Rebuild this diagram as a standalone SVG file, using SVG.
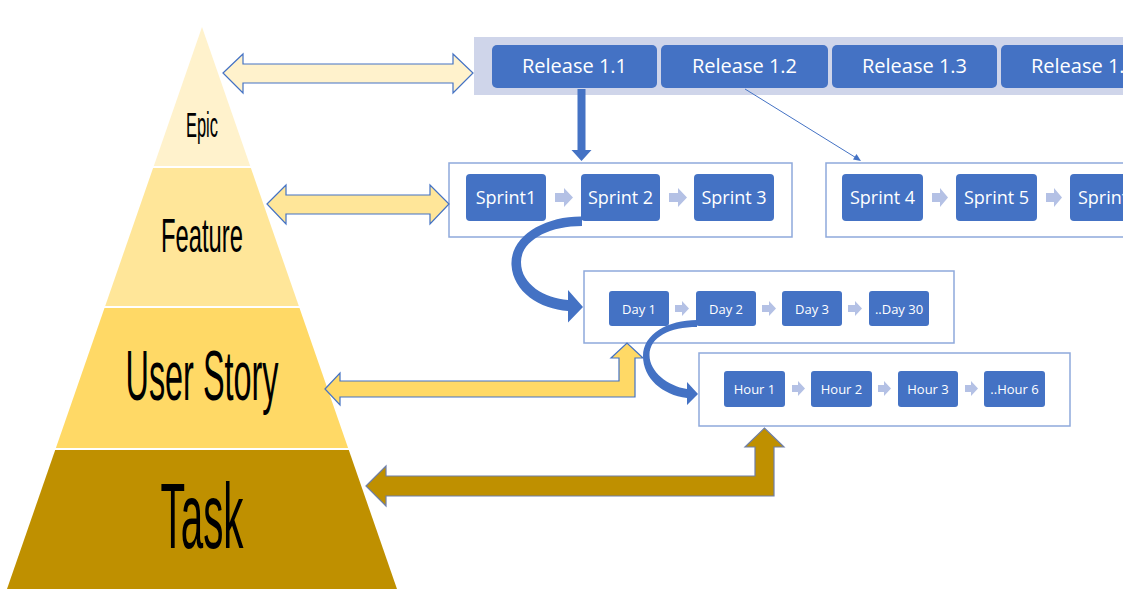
<svg xmlns="http://www.w3.org/2000/svg" width="1137" height="604" viewBox="0 0 1137 604">
<style>
.lvl{font-family:"Liberation Sans",Arial,sans-serif;fill:#000;text-anchor:middle}
.box{fill:#4472C4}
.bt{font-family:"Open Sans","Liberation Sans",sans-serif;fill:#fff;text-anchor:middle}
.cont{fill:#fff;stroke:#8EA9DB;stroke-width:1.5}
.sa{fill:#B4C1E5}
.dbl{stroke:#4472C4;stroke-width:1.2}
</style>
<defs>
<clipPath id="clipR"><rect x="0" y="0" width="1123" height="604"/></clipPath>
</defs>

<g id="pyramid">
  <g id="epic"><polygon points="202,27 250.2,166 153.8,166" fill="#FFF2CC"/>
    <text class="lvl" x="202" y="137" font-size="35" textLength="32" lengthAdjust="spacingAndGlyphs">Epic</text></g>
  <g id="feature"><polygon points="153.1,168 250.9,168 298.8,306 105.2,306" fill="#FFE699"/>
    <text class="lvl" x="202" y="252" font-size="49" textLength="82" lengthAdjust="spacingAndGlyphs">Feature</text></g>
  <g id="userstory"><polygon points="104.5,308 299.5,308 348.1,448 55.9,448" fill="#FFD966"/>
    <text class="lvl" x="202" y="400" font-size="70" textLength="153" lengthAdjust="spacingAndGlyphs">User Story</text></g>
  <g id="task"><polygon points="55.2,450 348.8,450 397,589 7,589" fill="#BF9000"/>
    <text class="lvl" x="202" y="548" font-size="92" textLength="83" lengthAdjust="spacingAndGlyphs">Task</text></g>
</g>

<g clip-path="url(#clipR)">
<g id="releases">
  <rect x="474" y="37" width="680" height="58" fill="#CFD5EA"/>
  <g id="r11"><rect class="box" x="492" y="45" width="165" height="43" rx="5"/><text class="bt" x="574.5" y="73" font-size="20">Release 1.1</text></g>
  <g id="r12"><rect class="box" x="661" y="45" width="167" height="43" rx="5"/><text class="bt" x="744.5" y="73" font-size="20">Release 1.2</text></g>
  <g id="r13"><rect class="box" x="832" y="45" width="165" height="43" rx="5"/><text class="bt" x="914.5" y="73" font-size="20">Release 1.3</text></g>
  <g id="r14"><rect class="box" x="1001" y="45" width="165" height="43" rx="5"/><text class="bt" x="1083.5" y="73" font-size="20">Release 1.4</text></g>
</g>

<g id="sprints-a">
  <rect class="cont" x="449" y="163" width="343" height="74"/>
  <g id="s1"><rect class="box" x="466" y="174" width="80" height="47" rx="4"/><text class="bt" x="506" y="204" font-size="18">Sprint1</text></g>
  <g id="s2"><rect class="box" x="581" y="174" width="79" height="47" rx="4"/><text class="bt" x="620.5" y="204" font-size="18">Sprint 2</text></g>
  <g id="s3"><rect class="box" x="694" y="174" width="80" height="47" rx="4"/><text class="bt" x="734" y="204" font-size="18">Sprint 3</text></g>
  <path class="sa" d="M555,193 h9 v-5 l9,9.5 l-9,9.5 v-5 h-9z"/>
  <path class="sa" d="M669,193 h9 v-5 l9,9.5 l-9,9.5 v-5 h-9z"/>
</g>

<g id="sprints-b">
  <rect class="cont" x="826" y="163" width="340" height="74"/>
  <g id="s4"><rect class="box" x="842" y="174" width="81" height="47" rx="4"/><text class="bt" x="882.5" y="204" font-size="18">Sprint 4</text></g>
  <g id="s5"><rect class="box" x="956" y="174" width="81" height="47" rx="4"/><text class="bt" x="996.5" y="204" font-size="18">Sprint 5</text></g>
  <g id="s6"><rect class="box" x="1070" y="174" width="81" height="47" rx="4"/><text class="bt" x="1110.5" y="204" font-size="18">Sprint 6</text></g>
  <path class="sa" d="M932,193 h8 v-5 l8,9.5 l-8,9.5 v-5 h-8z"/>
  <path class="sa" d="M1046,193 h8 v-5 l8,9.5 l-8,9.5 v-5 h-8z"/>
</g>
</g>

<g id="days">
  <rect class="cont" x="584" y="271" width="370" height="72"/>
  <g id="d1"><rect class="box" x="609" y="291" width="60" height="35" rx="3"/><text class="bt" x="639" y="313.5" font-size="13">Day 1</text></g>
  <g id="d2"><rect class="box" x="696" y="291" width="60" height="35" rx="3"/><text class="bt" x="726" y="313.5" font-size="13">Day 2</text></g>
  <g id="d3"><rect class="box" x="782" y="291" width="60" height="35" rx="3"/><text class="bt" x="812" y="313.5" font-size="13">Day 3</text></g>
  <g id="d30"><rect class="box" x="869" y="291" width="60" height="35" rx="3"/><text class="bt" x="899" y="313.5" font-size="13">..Day 30</text></g>
  <path class="sa" d="M675,305 h7 v-4 l7,7.5 l-7,7.5 v-4 h-7z"/>
  <path class="sa" d="M762,305 h7 v-4 l7,7.5 l-7,7.5 v-4 h-7z"/>
  <path class="sa" d="M848,305 h7 v-4 l7,7.5 l-7,7.5 v-4 h-7z"/>
</g>

<g id="hours">
  <rect class="cont" x="699" y="353" width="371" height="73"/>
  <g id="h1"><rect class="box" x="724" y="371" width="61" height="36" rx="3"/><text class="bt" x="754.5" y="393.5" font-size="13">Hour 1</text></g>
  <g id="h2"><rect class="box" x="811" y="371" width="61" height="36" rx="3"/><text class="bt" x="841.5" y="393.5" font-size="13">Hour 2</text></g>
  <g id="h3"><rect class="box" x="898" y="371" width="60" height="36" rx="3"/><text class="bt" x="928" y="393.5" font-size="13">Hour 3</text></g>
  <g id="h6"><rect class="box" x="984" y="371" width="61" height="36" rx="3"/><text class="bt" x="1014.5" y="393.5" font-size="13">..Hour 6</text></g>
  <path class="sa" d="M792,385 h6 v-4 l7,7.5 l-7,7.5 v-4 h-6z"/>
  <path class="sa" d="M878,385 h6 v-4 l7,7.5 l-7,7.5 v-4 h-6z"/>
  <path class="sa" d="M965,385 h6 v-4 l7,7.5 l-7,7.5 v-4 h-6z"/>
</g>

<g id="connectors">
  <polygon class="dbl" fill="#FFF2CC" points="223,73 243,54 243,64 453,64 453,54 473,73 453,93 453,83 243,83 243,93"/>
  <polygon class="dbl" fill="#FFE699" points="267,204 286,185 286,195 430,195 430,185 449,204 430,224 430,214 286,214 286,224"/>
  <polygon class="dbl" fill="#FFD966" points="325,389 340,373 340,381 619,381 619,358 611,358 627,343 643,358 635,358 635,397 340,397 340,405"/>
  <polygon fill="#BF9000" stroke="#6F7FA8" stroke-width="1.2" points="366,486 386,466 386,476 755,476 755,447 745,447 764.5,428 784,447 774,447 774,496 386,496 386,506"/>
  <polygon fill="#4472C4" points="577.5,89 585.5,89 585.5,150 591.5,150 581.5,161 571.5,150 577.5,150"/>
  <line x1="745" y1="89" x2="858" y2="159" stroke="#4472C4" stroke-width="1"/>
  <polygon fill="#4472C4" points="861,161 853,159.5 856.5,154"/>
  <path fill="#4472C4" d="M582,216.5 C545,216 510,236 511.5,265 C513,292 540,309 568,311 L568,322.5 L583,307 L568,290 L568,300 C545,298 521,285 521,262 C521,241 548,226 582,226 Z"/>
  <path fill="#4472C4" d="M697,320 C668,320 643,334 643,356 C643,378 662,395 687,398 L687,405 L698,394 L687,382 L687,389 C668,386 649.5,372 649.5,355 C649.5,337 670,327 697,327 Z"/>
</g>
</svg>
